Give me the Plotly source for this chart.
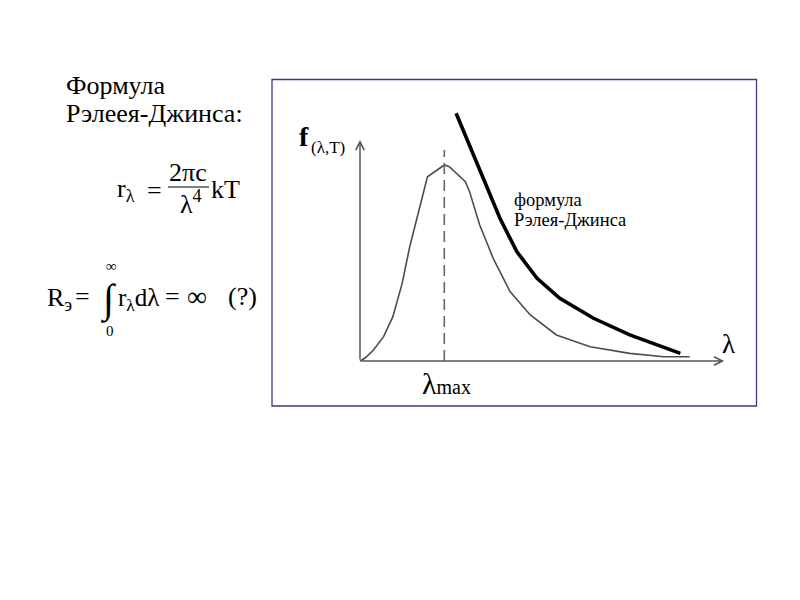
"""Rayleigh-Jeans slide: Planck curve vs Rayleigh-Jeans formula."""

import plotly.graph_objects as go

# curve data (lambda in units of lambda_max, f normalised to the peak)
PLANCK_LAMBDA = [0, 0.06, 0.16, 0.28, 0.39, 0.50, 0.59, 0.80, 1.00, 1.06, 1.25, 1.30,
                 1.42, 1.58, 1.78, 2.02, 2.33, 2.73, 3.20, 3.60, 3.91]
PLANCK_F = [0, 0.015, 0.056, 0.124, 0.226, 0.396, 0.583, 0.940, 1.000, 0.991, 0.915, 0.864,
            0.694, 0.524, 0.354, 0.235, 0.133, 0.073, 0.039, 0.022, 0.022]

RJ_LAMBDA = [1.14, 1.30, 1.46, 1.66, 1.86, 2.10, 2.37, 2.77, 3.20, 3.80]
RJ_F = [1.264, 1.102, 0.932, 0.728, 0.558, 0.422, 0.320, 0.218, 0.133, 0.039]

LAMBDA_MAX = 1.0
PEAK_F = 1.0
X_AXIS_END = 4.32
Y_AXIS_END = 1.128

SERIF = "Times New Roman"
AXIS_COLOR = "#555555"
BOX_COLOR = "#3a3a8c"

# page has an 8px body margin, so the figure is 784x584 and positions
# below are given in page pixels
PAGE_PAD = 8
W, H = 800 - 2 * PAGE_PAD, 600 - 2 * PAGE_PAD
PX_X = 84.3   # pixels per lambda unit
PX_Y = 196.0  # pixels per f unit
ORIGIN = (360, 361)


def px(x):
    return (x - PAGE_PAD) / W


def py(y):
    return 1 - (y - PAGE_PAD) / H


def text(fig, s, x, y, size, xanchor="center", yanchor="middle", color="black"):
    fig.add_annotation(
        text=s, x=px(x), y=py(y), xref="paper", yref="paper",
        xanchor=xanchor, yanchor=yanchor, showarrow=False, align="left",
        font=dict(family=SERIF, size=size, color=color),
    )


fig = go.Figure()

fig.add_trace(go.Scatter(
    x=PLANCK_LAMBDA, y=PLANCK_F, mode="lines",
    line=dict(color="#4d4d4d", width=1.6), hoverinfo="skip",
))
fig.add_trace(go.Scatter(
    x=RJ_LAMBDA, y=RJ_F, mode="lines",
    line=dict(color="black", width=3.6), hoverinfo="skip",
))
fig.add_trace(go.Scatter(
    x=[LAMBDA_MAX, LAMBDA_MAX], y=[0, PEAK_F * 1.077], mode="lines",
    line=dict(color="#666666", width=1.6, dash="11px,6px"), hoverinfo="skip",
))

# axes drawn as arrows
for tip, tail in [((X_AXIS_END, 0), (0, 0)), ((0, Y_AXIS_END), (0, 0))]:
    fig.add_annotation(
        x=tip[0], y=tip[1], ax=tail[0], ay=tail[1],
        xref="x", yref="y", axref="x", ayref="y", text="",
        showarrow=True, arrowhead=5, arrowsize=1.1, arrowwidth=1.5,
        arrowcolor=AXIS_COLOR, standoff=0, startstandoff=0,
    )

x0, y0 = ORIGIN
fig.update_layout(
    width=W, height=H,
    margin=dict(l=0, r=0, t=0, b=0),
    paper_bgcolor="white", plot_bgcolor="rgba(0,0,0,0)",
    showlegend=False,
    font=dict(family=SERIF),
    xaxis=dict(domain=[px(350), px(730)], range=[-(x0 - 350) / PX_X, (730 - x0) / PX_X],
               visible=False, fixedrange=True),
    yaxis=dict(domain=[py(370), py(100)], range=[-(370 - y0) / PX_Y, (y0 - 100) / PX_Y],
               visible=False, fixedrange=True),
)

# frame around the diagram
fig.add_shape(type="rect", xref="paper", yref="paper",
              x0=px(272), x1=px(756.5), y0=py(406), y1=py(79.5),
              line=dict(color=BOX_COLOR, width=1.3), layer="below")

# diagram labels
text(fig, "<b>f</b>", 304, 136, 28)
text(fig, "(λ,T)", 309, 147, 17, xanchor="left")
text(fig, "λ", 728, 344, 27)
text(fig, "λ<span style='font-size:20px'>max</span>", 446, 383, 30)
text(fig, "формула", 512, 200, 18.5, xanchor="left")
text(fig, "Рэлея-Джинса", 512, 220, 18.5, xanchor="left")

# left text block
text(fig, "Формула", 64, 86, 26, xanchor="left")
text(fig, "Рэлеея-Джинса:", 64, 113, 26, xanchor="left")

# r_lambda = 2*pi*c / lambda^4 * kT
text(fig, "r<sub>λ</sub>", 115, 190, 26, xanchor="left")
text(fig, "=", 154, 190, 26)
text(fig, "2πc", 188, 173, 26)
fig.add_shape(type="line", xref="paper", yref="paper",
              x0=px(168), x1=px(209), y0=py(187), y1=py(187),
              line=dict(color="black", width=1.2))
text(fig, "λ<sup>4</sup>", 191, 202, 26)
text(fig, "kT", 209, 189, 26, xanchor="left")

# R = integral r dlambda = infinity (?)
text(fig, "R<sub>э</sub>", 45, 299, 26, xanchor="left")
text(fig, "=", 82, 297, 26)
text(fig, "∫", 109, 299, 40)
text(fig, "∞", 111, 266, 15)
text(fig, "0", 110, 331, 15)
text(fig, "r<sub>λ</sub>dλ", 116, 299, 25, xanchor="left")
text(fig, "=", 172, 297, 26)
text(fig, "∞", 197, 297, 28)
text(fig, "(?)", 242, 297, 26)

fig.write_html("out.html")
